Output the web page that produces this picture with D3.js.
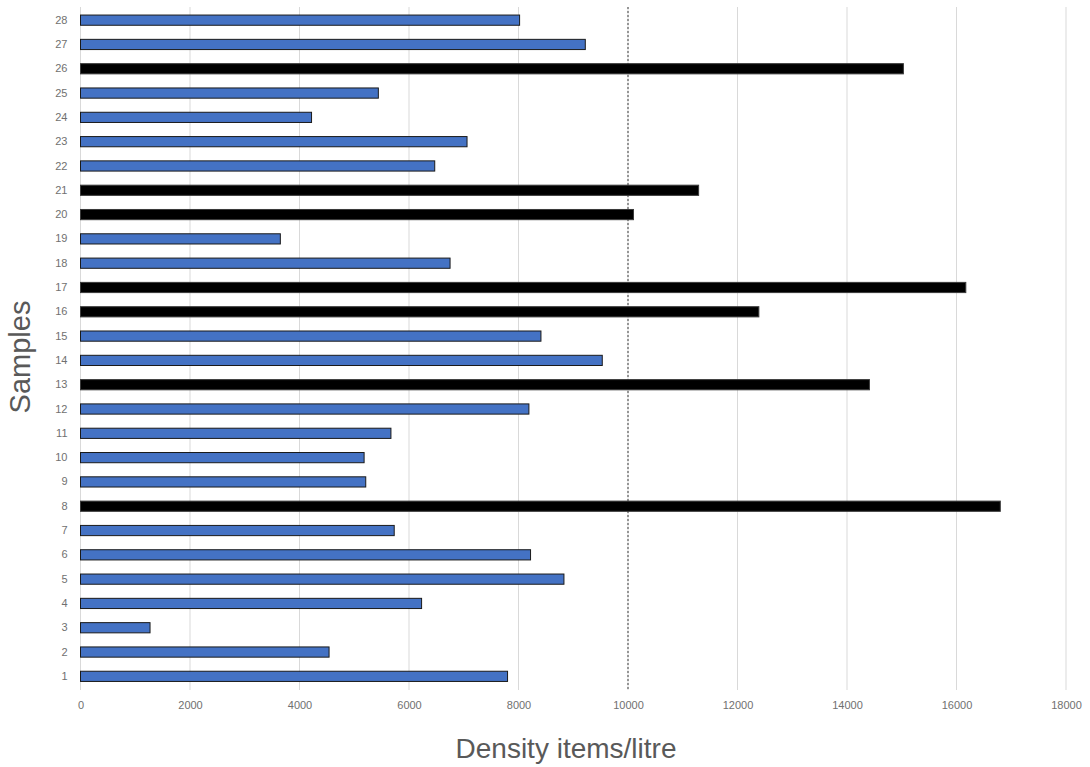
<!DOCTYPE html>
<html>
<head>
<meta charset="utf-8">
<script src="https://cdn.jsdelivr.net/npm/d3@7"></script>
<style>
  html, body { margin: 0; padding: 0; background: #fff; }
  svg { display: block; }
</style>
</head>
<body>
<svg id="chart" width="1090" height="767"></svg>
<script>
const samples = ["1","2","3","4","5","6","7","8","9","10","11","12","13","14","15","16","17","18","19","20","21","22","23","24","25","26","27","28"];
const density = [7800, 4540, 1270, 6230, 8830, 8220, 5730, 16800, 5210, 5180, 5670, 8190, 14410, 9530, 8410, 12390, 16170, 6750, 3650, 10100, 11290, 6470, 7060, 4220, 5440, 15030, 9220, 8020];
const xTicks = [0, 2000, 4000, 6000, 8000, 10000, 12000, 14000, 16000, 18000];
const threshold = 10000;
const xTitle = "Density items/litre";
const yTitle = "Samples";

(function () {
const data = samples.map((s, i) => ({ s, v: density[i] }));

const svg = d3.select("#chart");
const mLeft = 80.5, mRight = 1066, mTop = 8, mBottom = 688.5;

const x = d3.scaleLinear().domain([0, 18000]).range([mLeft, mRight]);
const y = d3.scaleBand().domain(samples.slice().reverse()).range([mTop, mBottom]).paddingInner(0.58).paddingOuter(0.29);

// gridlines
svg.append("g").selectAll("line").data(xTicks).join("line")
  .attr("x1", d => x(d)).attr("x2", d => x(d))
  .attr("y1", 7).attr("y2", 690)
  .attr("stroke", "#d9d9d9").attr("stroke-width", 1);

// threshold dotted line
svg.append("line")
  .attr("x1", x(threshold)).attr("x2", x(threshold))
  .attr("y1", 7).attr("y2", 690)
  .attr("stroke", "#404040").attr("stroke-width", 1)
  .attr("stroke-dasharray", "2,2");

// bars
svg.append("g").selectAll("rect").data(data).join("rect")
  .attr("x", x(0))
  .attr("y", d => y(d.s))
  .attr("width", d => x(d.v) - x(0))
  .attr("height", y.bandwidth())
  .attr("fill", d => d.v > threshold ? "#000000" : "#4472C4")
  .attr("stroke", d => d.v > threshold ? "#3a3a3a" : "#1a1a1a")
  .attr("stroke-width", 1);

// x axis labels
const xAxis = svg.append("g").attr("transform", `translate(0,${mBottom})`)
  .call(d3.axisBottom(x).tickValues(xTicks).tickSize(0).tickPadding(13).tickFormat(d3.format("d")));
xAxis.select(".domain").remove();
xAxis.selectAll("text").attr("fill", "#707070").style("font-family", "Liberation Sans, Arial, sans-serif").style("font-size", "11px");

// y axis labels
const yAxis = svg.append("g").attr("transform", `translate(${mLeft},0)`)
  .call(d3.axisLeft(y).tickSize(0).tickPadding(13));
yAxis.select(".domain").remove();
yAxis.selectAll("text").attr("fill", "#707070").style("font-family", "Liberation Sans, Arial, sans-serif").style("font-size", "11px");

// titles
svg.append("text")
  .attr("x", 566).attr("y", 758)
  .attr("text-anchor", "middle")
  .attr("fill", "#595959")
  .style("font-family", "Liberation Sans, Arial, sans-serif")
  .style("font-size", "28px")
  .text(xTitle);

svg.append("text")
  .attr("transform", "translate(30,357) rotate(-90)")
  .attr("text-anchor", "middle")
  .attr("fill", "#595959")
  .style("font-family", "Liberation Sans, Arial, sans-serif")
  .style("font-size", "29px")
  .text(yTitle);
})();
</script>
</body>
</html>
